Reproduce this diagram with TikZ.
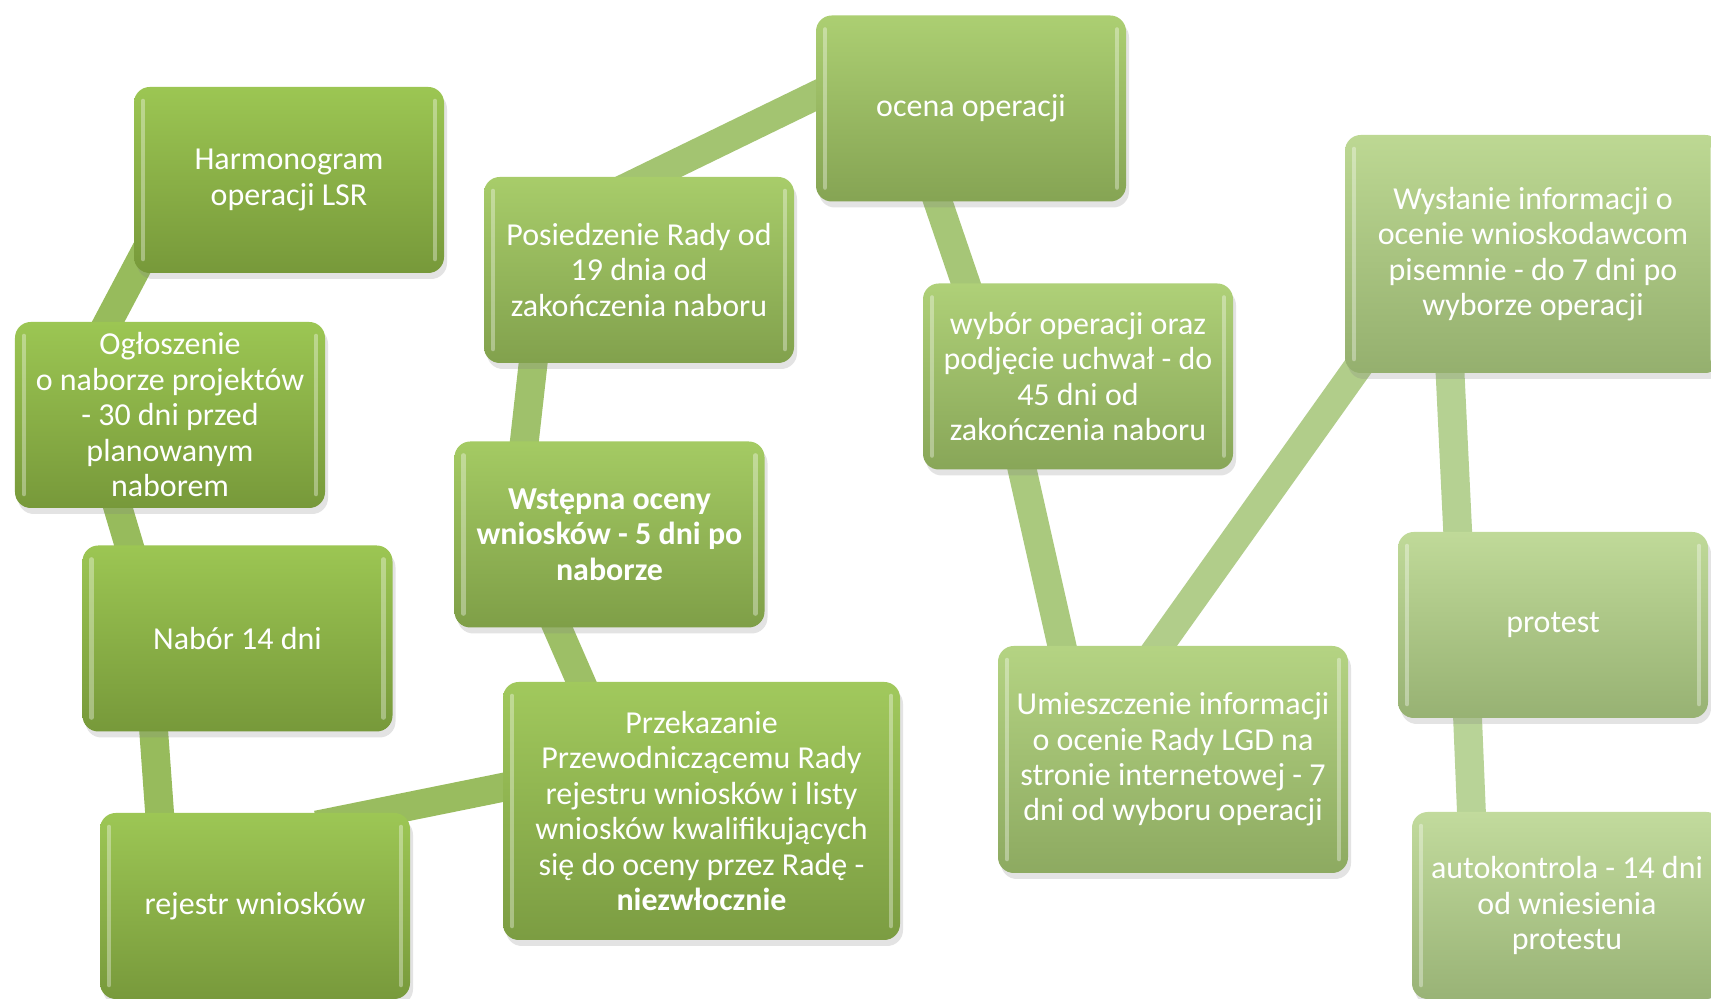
\documentclass[tikz,border=0pt]{standalone}
\usepackage{fontspec}
\setmainfont{Carlito}
\usepackage{xcolor}
\usetikzlibrary{shadows, backgrounds}
\definecolor{leafTop}{HTML}{9CC653}
\definecolor{leafBot}{HTML}{77993A}
\definecolor{paleTop}{HTML}{C6DDA5}
\definecolor{paleBot}{HTML}{9DB67D}
\definecolor{bandL}{HTML}{97BB5C}
\definecolor{bandR}{HTML}{BDD69F}

\begin{document}
\begin{tikzpicture}[
        box/.style={
                rounded corners=4.5pt, minimum width=3.1cm, minimum height=1.86cm,
                inner sep=1pt, align=center, text=white,
                font=\fontsize{9.1}{10.1}\selectfont,
                drop shadow={shadow xshift=0.3mm, shadow yshift=-0.6mm, opacity=0.22},
                path picture={
                        \draw[white, opacity=0.35, line width=1.3pt, line cap=round]
                            ([shift={(0.09,-0.14)}]path picture bounding box.north west)
                            -- ([shift={(0.09,0.14)}]path picture bounding box.south west);
                        \draw[white, opacity=0.35, line width=1.3pt, line cap=round]
                            ([shift={(-0.09,-0.14)}]path picture bounding box.north east)
                            -- ([shift={(-0.09,0.14)}]path picture bounding box.south east);
                    }
            },
        tint/.style={top color=leafTop!#1!paleTop, bottom color=leafBot!#1!paleBot},
        link/.style={line width=8.2pt, draw=bandL!#1!bandR},
    ]
    \useasboundingbox (0,0) rectangle (17.11,9.99);

    % left column
    \node[box, tint=100] (harm)    at (2.89,8.19)  {Harmonogram\\operacji LSR};
    \node[box, tint=100] (oglo)    at (1.70,5.84)  {Ogłoszenie\\o naborze projektów\\- 30 dni przed\\planowanym\\naborem};
    \node[box, tint=100] (nabor)   at (2.375,3.605) {Nabór 14 dni};
    \node[box, tint=98]  (rejestr) at (2.55,0.93)  {rejestr wniosków};

    % middle
    \node[box, tint=88, minimum width=3.97cm, minimum height=2.58cm] (przek) at (7.015,1.88)
        {Przekazanie\\Przewodniczącemu Rady\\rejestru wniosków i listy\\wniosków kwalifikujących\\się do oceny przez Radę -\\\textbf{niezwłocznie}};
    \node[box, tint=80, font=\fontsize{9.1}{10.1}\selectfont\bfseries] (wstep) at (6.095,4.645)
        {Wstępna oceny\\wniosków - 5 dni po\\naborze};
    \node[box, tint=72]  (posied)  at (6.39,7.29)  {Posiedzenie Rady od\\19 dnia od\\zakończenia naboru};
    \node[box, tint=62]  (ocena)   at (9.71,8.905) {ocena operacji};
    \node[box, tint=55]  (wybor)   at (10.78,6.225) {wybór operacji oraz\\podjęcie uchwał - do\\45 dni od\\zakończenia naboru};
    \node[box, tint=42, minimum width=3.5cm, minimum height=2.27cm] (umiesz) at (11.73,2.395)
        {Umieszczenie informacji\\o ocenie Rady LGD na\\stronie internetowej - 7\\dni od wyboru operacji};

    % right column
    \node[box, tint=22, minimum width=3.76cm, minimum height=2.38cm] (wyslanie) at (15.33,7.45)
        {Wysłanie informacji o\\ocenie wnioskodawcom\\pisemnie - do 7 dni po\\wyborze operacji};
    \node[box, tint=15]  (protest) at (15.53,3.74)  {protest};
    \node[box, tint=10, minimum height=1.87cm] (autok) at (15.67,0.935)
        {autokontrola - 14 dni\\od wniesienia\\protestu};

    % bands behind the boxes
    \begin{scope}[on background layer]
        \fill[white] (0,0) rectangle (17.11,9.99);
        \draw[link=100] ([shift={(-0.82,0.55)}]oglo.center)     -- ([shift={(-1.11,-0.10)}]harm.center);
        \draw[link=100] ([shift={(-0.685,-0.375)}]oglo.center)  -- ([shift={(-0.92,0.38)}]nabor.center);
        \draw[link=100] ([shift={(-0.875,-0.415)}]nabor.center) -- ([shift={(-0.92,0.46)}]rejestr.center);
        \draw[link=95]  ([shift={(0.62,0.81)}]rejestr.center)   -- ([shift={(-1.425,0.35)}]przek.center);
        \draw[link=85]  ([shift={(-1.085,1.015)}]przek.center)  -- ([shift={(-0.765,-0.375)}]wstep.center);
        \draw[link=78]  ([shift={(-0.895,0.545)}]wstep.center)  -- ([shift={(-1.01,-0.50)}]posied.center);
        \draw[link=68]  ([shift={(-0.31,0.735)}]posied.center)  -- ([shift={(-1.05,0.375)}]ocena.center);
        \draw[link=60]  ([shift={(-0.47,-0.525)}]ocena.center)  -- ([shift={(-0.98,0.515)}]wybor.center);
        \draw[link=50]  ([shift={(-0.65,-0.525)}]wybor.center)  -- ([shift={(-1.02,0.735)}]umiesz.center);
        \draw[link=32]  ([shift={(-0.33,0.865)}]umiesz.center)  -- ([shift={(-1.63,-0.96)}]wyslanie.center);
        \draw[link=20]  ([shift={(-0.85,-0.76)}]wyslanie.center) -- ([shift={(-0.93,0.45)}]protest.center);
        \draw[link=12]  ([shift={(-0.87,-0.55)}]protest.center) -- ([shift={(-0.94,0.555)}]autok.center);
    \end{scope}
\end{tikzpicture}
\end{document}
